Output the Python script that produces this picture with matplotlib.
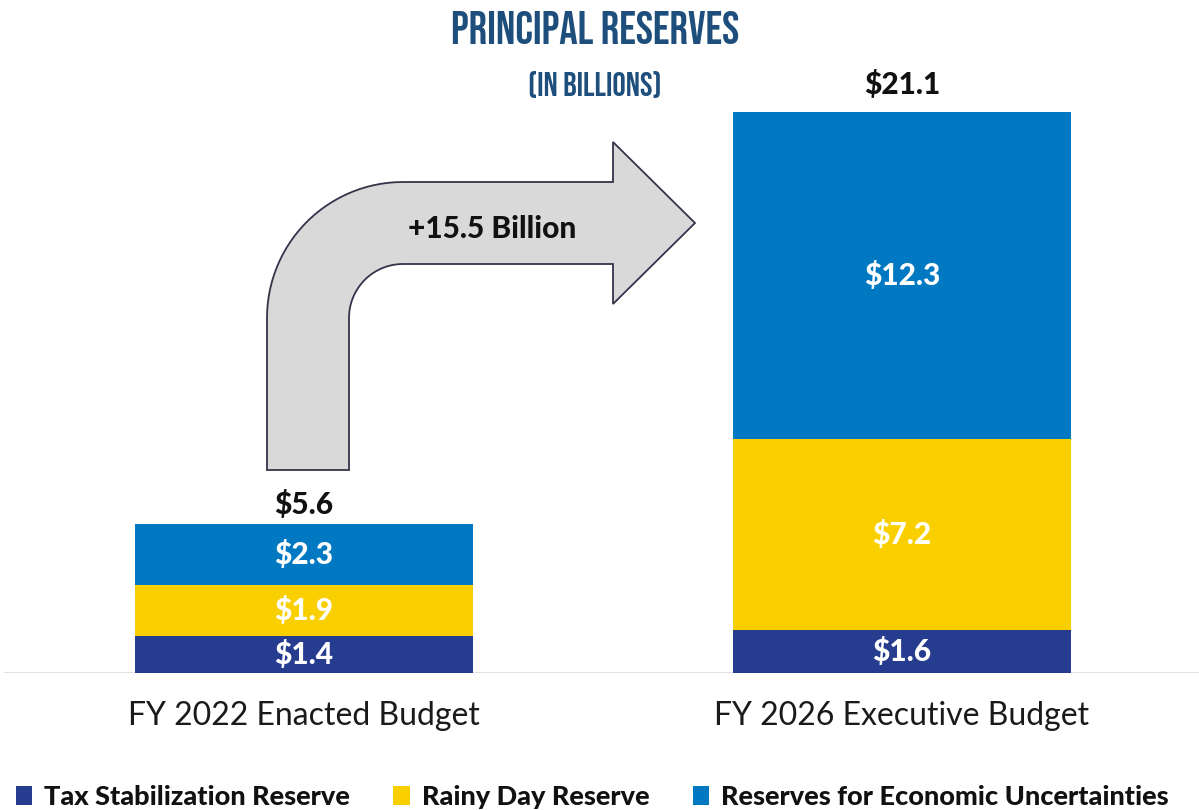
"""
Principal Reserves (in billions): FY 2022 enacted vs FY 2026 executive budget
"""

import numpy as np
import matplotlib.pyplot as plt
from matplotlib.path import Path
from matplotlib.patches import PathPatch, Patch

# Data
categories = ['FY 2022 Enacted Budget', 'FY 2026 Executive Budget']
tax_stab   = [1.4, 1.6]
rainy_day  = [1.9, 7.2]
econ_unc   = [2.3, 12.3]
totals     = [5.6, 21.1]
change_lbl = '+15.5 Billion'

series_names  = ['Tax Stabilization Reserve', 'Rainy Day Reserve',
                 'Reserves for Economic Uncertainties']
series_colors = ['#253C8F', '#F9CF00', '#0079C2']

NUM_FONT   = ['Lato', 'DejaVu Sans']
TITLE_FONT = ['Bebas Neue', 'Oswald', 'Anton', 'Archivo Narrow', 'DejaVu Sans']
TITLE_BLUE = '#1D4E7C'

fig = plt.figure(figsize=(11.99, 8.10), dpi=100)

# main axes: baseline at 673px from top, ~26.6 px per billion
px_per_unit = (673 - 112) / 21.1
ymax = 24.0
ax_h = ymax * px_per_unit / 810
ax = fig.add_axes([0, (810 - 673) / 810, 1, ax_h])
ax.set_xlim(-304 / 598, (1199 - 304) / 598)
ax.set_ylim(0, ymax)

x = np.arange(len(categories))
width = 338 / 598
bottom = np.zeros(len(categories))
for vals, name, col in zip([tax_stab, rainy_day, econ_unc], series_names, series_colors):
    bars = ax.bar(x, vals, width, bottom=bottom, color=col, label=name, zorder=3)
    for rect, v, b in zip(bars, vals, bottom):
        ax.text(rect.get_x() + rect.get_width() / 2, b + v / 2, f'${v}',
                ha='center', va='center', color='white', fontsize=21.5,
                fontweight='black', family=NUM_FONT, zorder=4)
    bottom += np.array(vals)

total_offsets = [14, 20]  # points above bar top
for xi, t, off in zip(x, totals, total_offsets):
    ax.annotate(f'${t}', (xi, t), xytext=(0, off), textcoords='offset points',
                ha='center', va='center', fontsize=21.5, fontweight='black',
                family=NUM_FONT, color='#111111')

ax.axhline(0, xmin=0.004, xmax=1, color='#DADADA', lw=1.2, zorder=2)
for xi, c in zip(x, categories):
    ax.text(xi, -1.6, c, ha='center', va='center', fontsize=23,
            family=NUM_FONT, color='#1a1a1a')
ax.axis('off')

# legend at the bottom
handles = [Patch(facecolor=c, edgecolor='none') for c in series_colors]
leg = fig.legend(handles, series_names, loc='center', ncol=3,
                 bbox_to_anchor=(0.494, 1 - 797 / 810), frameon=False,
                 handlelength=0.6, handleheight=0.65, handletextpad=0.45,
                 columnspacing=1.6, borderpad=0, borderaxespad=0,
                 prop={'family': NUM_FONT, 'weight': 'black', 'size': 19.5})
for t in leg.get_texts():
    t.set_color('#111111')

# curved arrow overlay, in pixel coordinates
ov = fig.add_axes([0, 0, 1, 1], zorder=5)
ov.set_xlim(0, 1199)
ov.set_ylim(810, 0)
ov.axis('off')

cx, cy = 403, 318
r_out, r_in = 136, 54
t_out = np.linspace(np.pi, 1.5 * np.pi, 30)
t_in = np.linspace(1.5 * np.pi, np.pi, 30)
verts = [(267, 470)]
verts += [(cx + r_out * np.cos(t), cy + r_out * np.sin(t)) for t in t_out]
verts += [(613, 182), (613, 142), (695, 223), (613, 304), (613, 264)]
verts += [(cx + r_in * np.cos(t), cy + r_in * np.sin(t)) for t in t_in]
verts += [(349, 470), (267, 470)]
codes = [Path.MOVETO] + [Path.LINETO] * (len(verts) - 2) + [Path.CLOSEPOLY]
ov.add_patch(PathPatch(Path(verts, codes), facecolor='#D9D9D9',
                       edgecolor='#33344A', lw=1.3))
ov.text(492, 229, change_lbl, ha='center', va='center', fontsize=21.5,
        fontweight='black', family=NUM_FONT, color='#111111')

# title
fig.text(0.496, 1 - 27 / 810, 'PRINCIPAL RESERVES', ha='center', va='center',
         fontsize=33, fontweight='bold', family=TITLE_FONT, color=TITLE_BLUE)
fig.text(0.496, 1 - 84 / 810, '(IN BILLIONS)', ha='center', va='center',
         fontsize=24, fontweight='bold', family=TITLE_FONT, color=TITLE_BLUE)

fig.savefig('out.png', dpi=100)
